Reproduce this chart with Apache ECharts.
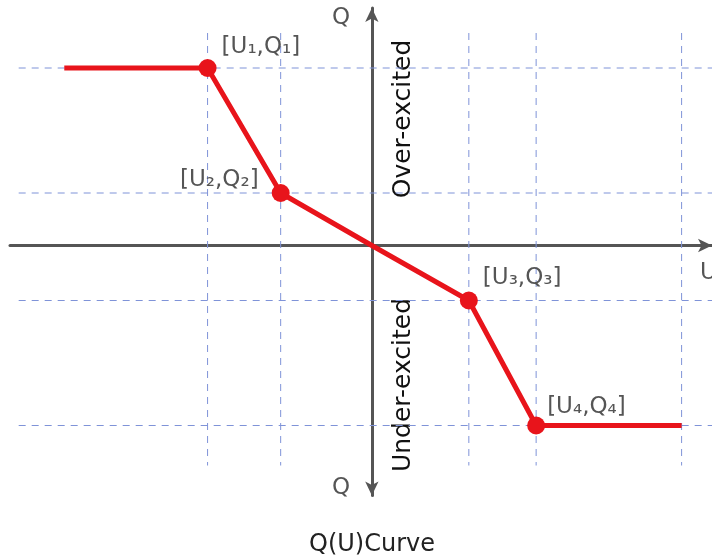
<!DOCTYPE html>
<html>
<head>
<meta charset="utf-8">
<script src="https://cdn.jsdelivr.net/npm/echarts@6/dist/echarts.min.js"></script>
<style>
  html, body { margin: 0; padding: 0; background: #fff; }
  #chart { width: 712px; height: 559px; }
</style>
</head>
<body>
<div id="chart"></div>
<script>
    // Q(U) characteristic, values
    var uValues = [-4.25, -2.27, -1.26, 0, 1.34, 2.27, 4.28];
    var qValues = [3.55, 3.55, 1.05, 0, -1.1, -3.6, -3.6];
    var pointNames = ['', '[U₁,Q₁]', '[U₂,Q₂]', '', '[U₃,Q₃]', '[U₄,Q₄]', ''];
    // dashed guide lines
    var gridU = [-2.27, -1.26, 1.34, 2.27, 4.28];
    var gridQ = [3.55, 1.05, -1.1, -3.6];

    var chart = echarts.init(document.getElementById('chart'));
    var font = 'DejaVu Sans';
    var dashColor = '#7f93d8';

    var labelPos = {
        '[U₁,Q₁]': { position: 'right', offset: [0, -21] },
        '[U₂,Q₂]': { position: 'left', offset: [-8, -13] },
        '[U₃,Q₃]': { position: 'right', offset: [0, -22] },
        '[U₄,Q₄]': { position: 'right', offset: [-3, -18] }
    };

    var curveData = uValues.map(function (u, i) {
        var name = pointNames[i];
        var item = { value: [u, qValues[i]] };
        if (name) {
            item.symbol = 'circle';
            item.symbolSize = 18;
            item.label = {
                show: true,
                formatter: name,
                position: labelPos[name].position,
                offset: labelPos[name].offset,
                color: '#555',
                fontSize: 23,
                fontFamily: font
            };
        } else {
            item.symbol = 'none';
        }
        return item;
    });

    var series = [];
    // vertical dashed lines
    gridU.forEach(function (u) {
        series.push({
            type: 'line', silent: true, symbol: 'none', z: 1,
            lineStyle: { color: dashColor, width: 1, type: [7, 6] },
            data: [[u, 4.25], [u, -4.4]]
        });
    });
    // horizontal dashed lines
    gridQ.forEach(function (q) {
        series.push({
            type: 'line', silent: true, symbol: 'none', z: 1,
            lineStyle: { color: dashColor, width: 1, type: [7, 6] },
            data: [[-4.88, q], [4.7, q]]
        });
    });
    series.push({
        type: 'line',
        z: 5,
        data: curveData,
        itemStyle: { color: '#e8141b' },
        lineStyle: { color: '#e8141b', width: 5 }
    });

    var option = {
        animation: false,
        backgroundColor: '#fff',
        grid: { left: 10, width: 702, top: 8, height: 487.5 },
        xAxis: {
            type: 'value', min: -5, max: 4.7,
            axisLine: {
                onZero: true,
                lineStyle: { color: '#555', width: 3 },
                symbol: ['none', 'arrow'],
                symbolSize: [10, 14]
            },
            axisTick: { show: false },
            axisLabel: { show: false },
            splitLine: { show: false }
        },
        yAxis: {
            type: 'value', min: -5, max: 4.75,
            axisLine: {
                onZero: true,
                lineStyle: { color: '#555', width: 3 },
                symbol: ['arrow', 'arrow'],
                symbolSize: [10, 14]
            },
            axisTick: { show: false },
            axisLabel: { show: false },
            splitLine: { show: false }
        },
        graphic: [
            { type: 'text', left: 332, top: 7, style: { text: 'Q', fontSize: 23, fill: '#555', fontFamily: font } },
            { type: 'text', left: 332, top: 477, style: { text: 'Q', fontSize: 23, fill: '#555', fontFamily: font } },
            { type: 'text', left: 700, top: 262, style: { text: 'U', fontSize: 23, fill: '#555', fontFamily: font } },
            { type: 'text', x: 403, y: 119, rotation: Math.PI / 2,
              style: { text: 'Over-excited', fontSize: 25, fill: '#111', fontFamily: font, align: 'center', verticalAlign: 'middle' } },
            { type: 'text', x: 403, y: 385, rotation: Math.PI / 2,
              style: { text: 'Under-excited', fontSize: 25, fill: '#111', fontFamily: font, align: 'center', verticalAlign: 'middle' } },
            { type: 'text', x: 372, y: 545,
              style: { text: 'Q(U)Curve', fontSize: 24, fill: '#222', fontFamily: font, align: 'center', verticalAlign: 'middle' } }
        ],
        series: series
    };

    chart.setOption(option);
</script>
</body>
</html>
